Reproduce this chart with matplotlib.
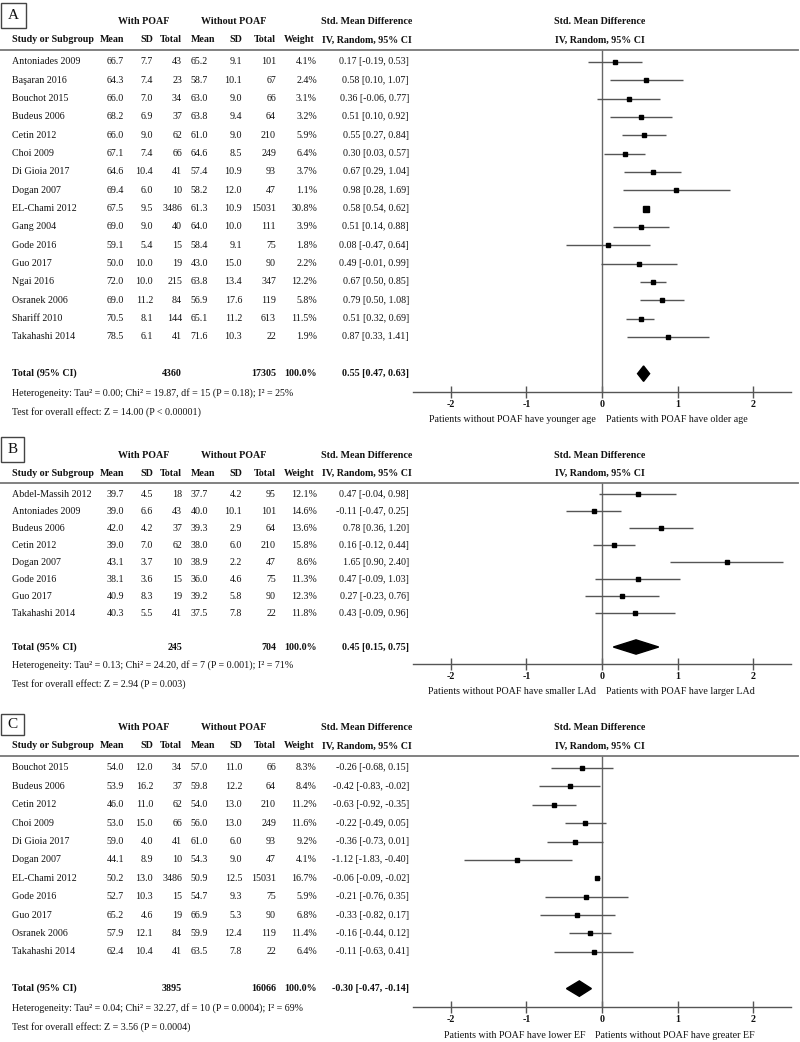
import numpy as np
import matplotlib.pyplot as plt
from matplotlib.transforms import blended_transform_factory
from matplotlib.patches import Polygon, Rectangle

plt.rcParams['font.family'] = ['Liberation Serif', 'DejaVu Serif']

# ---------------- data: panel A (age) ----------------
studies_a = ['Antoniades 2009', 'Başaran 2016', 'Bouchot 2015', 'Budeus 2006', 'Cetin 2012',
             'Choi 2009', 'Di Gioia 2017', 'Dogan 2007', 'EL-Chami 2012', 'Gang 2004',
             'Gode 2016', 'Guo 2017', 'Ngai 2016', 'Osranek 2006', 'Shariff 2010', 'Takahashi 2014']
mean1_a = [66.7, 64.3, 66.0, 68.2, 66.0, 67.1, 64.6, 69.4, 67.5, 69.0, 59.1, 50.0, 72.0, 69.0, 70.5, 78.5]
sd1_a = [7.7, 7.4, 7.0, 6.9, 9.0, 7.4, 10.4, 6.0, 9.5, 9.0, 5.4, 10.0, 10.0, 11.2, 8.1, 6.1]
n1_a = [43, 23, 34, 37, 62, 66, 41, 10, 3486, 40, 15, 19, 215, 84, 144, 41]
mean2_a = [65.2, 58.7, 63.0, 63.8, 61.0, 64.6, 57.4, 58.2, 61.3, 64.0, 58.4, 43.0, 63.8, 56.9, 65.1, 71.6]
sd2_a = [9.1, 10.1, 9.0, 9.4, 9.0, 8.5, 10.9, 12.0, 10.9, 10.0, 9.1, 15.0, 13.4, 17.6, 11.2, 10.3]
n2_a = [101, 67, 66, 64, 210, 249, 93, 47, 15031, 111, 75, 90, 347, 119, 613, 22]
weight_a = [4.1, 2.4, 3.1, 3.2, 5.9, 6.4, 3.7, 1.1, 30.8, 3.9, 1.8, 2.2, 12.2, 5.8, 11.5, 1.9]
smd_a = [0.17, 0.58, 0.36, 0.51, 0.55, 0.30, 0.67, 0.98, 0.58, 0.51, 0.08, 0.49, 0.67, 0.79, 0.51, 0.87]
lo_a = [-0.19, 0.10, -0.06, 0.10, 0.27, 0.03, 0.29, 0.28, 0.54, 0.14, -0.47, -0.01, 0.50, 0.50, 0.32, 0.33]
hi_a = [0.53, 1.07, 0.77, 0.92, 0.84, 0.57, 1.04, 1.69, 0.62, 0.88, 0.64, 0.99, 0.85, 1.08, 0.69, 1.41]
total_a = (4360, 17305, 0.55, 0.47, 0.63)
het_a = 'Heterogeneity: Tau² = 0.00; Chi² = 19.87, df = 15 (P = 0.18); I² = 25%'
test_a = 'Test for overall effect: Z = 14.00 (P < 0.00001)'
dir_a = ('Patients without POAF have younger age', 'Patients with POAF have older age')

# ---------------- data: panel B (LAd) ----------------
studies_b = ['Abdel-Massih 2012', 'Antoniades 2009', 'Budeus 2006', 'Cetin 2012', 'Dogan 2007',
             'Gode 2016', 'Guo 2017', 'Takahashi 2014']
mean1_b = [39.7, 39.0, 42.0, 39.0, 43.1, 38.1, 40.9, 40.3]
sd1_b = [4.5, 6.6, 4.2, 7.0, 3.7, 3.6, 8.3, 5.5]
n1_b = [18, 43, 37, 62, 10, 15, 19, 41]
mean2_b = [37.7, 40.0, 39.3, 38.0, 38.9, 36.0, 39.2, 37.5]
sd2_b = [4.2, 10.1, 2.9, 6.0, 2.2, 4.6, 5.8, 7.8]
n2_b = [95, 101, 64, 210, 47, 75, 90, 22]
weight_b = [12.1, 14.6, 13.6, 15.8, 8.6, 11.3, 12.3, 11.8]
smd_b = [0.47, -0.11, 0.78, 0.16, 1.65, 0.47, 0.27, 0.43]
lo_b = [-0.04, -0.47, 0.36, -0.12, 0.90, -0.09, -0.23, -0.09]
hi_b = [0.98, 0.25, 1.20, 0.44, 2.40, 1.03, 0.76, 0.96]
total_b = (245, 704, 0.45, 0.15, 0.75)
het_b = 'Heterogeneity: Tau² = 0.13; Chi² = 24.20, df = 7 (P = 0.001); I² = 71%'
test_b = 'Test for overall effect: Z = 2.94 (P = 0.003)'
dir_b = ('Patients without POAF have smaller LAd', 'Patients with POAF have larger LAd')

# ---------------- data: panel C (EF) ----------------
studies_c = ['Bouchot 2015', 'Budeus 2006', 'Cetin 2012', 'Choi 2009', 'Di Gioia 2017', 'Dogan 2007',
             'EL-Chami 2012', 'Gode 2016', 'Guo 2017', 'Osranek 2006', 'Takahashi 2014']
mean1_c = [54.0, 53.9, 46.0, 53.0, 59.0, 44.1, 50.2, 52.7, 65.2, 57.9, 62.4]
sd1_c = [12.0, 16.2, 11.0, 15.0, 4.0, 8.9, 13.0, 10.3, 4.6, 12.1, 10.4]
n1_c = [34, 37, 62, 66, 41, 10, 3486, 15, 19, 84, 41]
mean2_c = [57.0, 59.8, 54.0, 56.0, 61.0, 54.3, 50.9, 54.7, 66.9, 59.9, 63.5]
sd2_c = [11.0, 12.2, 13.0, 13.0, 6.0, 9.0, 12.5, 9.3, 5.3, 12.4, 7.8]
n2_c = [66, 64, 210, 249, 93, 47, 15031, 75, 90, 119, 22]
weight_c = [8.3, 8.4, 11.2, 11.6, 9.2, 4.1, 16.7, 5.9, 6.8, 11.4, 6.4]
smd_c = [-0.26, -0.42, -0.63, -0.22, -0.36, -1.12, -0.06, -0.21, -0.33, -0.16, -0.11]
lo_c = [-0.68, -0.83, -0.92, -0.49, -0.73, -1.83, -0.09, -0.76, -0.82, -0.44, -0.63]
hi_c = [0.15, -0.02, -0.35, 0.05, 0.01, -0.40, -0.02, 0.35, 0.17, 0.12, 0.41]
total_c = (3895, 16066, -0.30, -0.47, -0.14)
het_c = 'Heterogeneity: Tau² = 0.04; Chi² = 32.27, df = 10 (P = 0.0004); I² = 69%'
test_c = 'Test for overall effect: Z = 3.56 (P = 0.0004)'
dir_c = ('Patients with POAF have lower EF', 'Patients without POAF have greater EF')

ticks = [-2, -1, 0, 1, 2]

W, H = 800, 1042
fig = plt.figure(figsize=(W / 100, H / 100), dpi=100)
FS = 7.2
TXT = '#111111'
LINE = '#777777'


def fx(x):
    return x / W


def fy(y):
    return 1 - y / H


def panel(label, box, line_y, axis_y, split_x, studies, m1, s1, n1, m2, s2, n2, w, smd, lo, hi,
          total, het, test, dirs):
    n = len(studies)
    ax = fig.add_axes([fx(413), fy(axis_y), fx(791) - fx(413), (axis_y - line_y) / H])
    ax.set_xlim(-2.5, 2.5)
    ax.set_ylim(n + 2, -0.65)
    for s in ['top', 'left', 'right']:
        ax.spines[s].set_visible(False)
    ax.spines['bottom'].set_color('#555555')
    ax.spines['bottom'].set_linewidth(1.0)
    ax.set_yticks([])
    ax.set_xticks(ticks)
    ax.set_xticklabels([str(t) for t in ticks], fontsize=FS, fontweight='bold', color=TXT)
    ax.tick_params(axis='x', direction='inout', length=8, width=1, color='#555555', pad=1.5)
    ax.patch.set_alpha(0)
    ax.axvline(0, color='#666666', lw=1.0)

    rows = np.arange(n)
    ax.hlines(rows, lo, hi, color='#555555', lw=1.0)
    for i in range(n):
        ms = max(2.4, 0.85 * np.sqrt(w[i]))
        ax.plot(smd[i], i, 's', ms=ms, color='black', mec='black')
    t1, t2, est, tlo, thi = total
    yt = n + 1
    ax.add_patch(Polygon([(tlo, yt), (est, yt - 0.42), (thi, yt), (est, yt + 0.42)],
                         closed=True, color='black'))

    # table text, rows in data coords, x in figure fraction
    tr = blended_transform_factory(fig.transFigure, ax.transData)
    for i in range(n):
        kw = dict(transform=tr, fontsize=FS, color=TXT, va='center')
        ax.text(fx(12), i, studies[i], ha='left', **kw)
        ax.text(fx(124), i, f'{m1[i]:.1f}', ha='right', **kw)
        ax.text(fx(153), i, f'{s1[i]:.1f}', ha='right', **kw)
        ax.text(fx(182), i, f'{n1[i]}', ha='right', **kw)
        ax.text(fx(208), i, f'{m2[i]:.1f}', ha='right', **kw)
        ax.text(fx(242), i, f'{s2[i]:.1f}', ha='right', **kw)
        ax.text(fx(276), i, f'{n2[i]}', ha='right', **kw)
        ax.text(fx(317), i, f'{w[i]:.1f}%', ha='right', **kw)
        ax.text(fx(409), i, f'{smd[i]:.2f} [{lo[i]:.2f}, {hi[i]:.2f}]', ha='right', **kw)
    kw = dict(transform=tr, fontsize=FS, color=TXT, va='center', fontweight='bold')
    ax.text(fx(12), yt, 'Total (95% CI)', ha='left', **kw)
    ax.text(fx(182), yt, f'{t1}', ha='right', **kw)
    ax.text(fx(276), yt, f'{t2}', ha='right', **kw)
    ax.text(fx(317), yt, '100.0%', ha='right', **kw)
    ax.text(fx(409), yt, f'{est:.2f} [{tlo:.2f}, {thi:.2f}]', ha='right', **kw)

    # headers
    hb = dict(fontsize=FS, color=TXT, va='center', fontweight='bold')
    h1, h2 = line_y - 28, line_y - 10
    fig.text(fx(144), fy(h1), 'With POAF', ha='center', **hb)
    fig.text(fx(234), fy(h1), 'Without POAF', ha='center', **hb)
    fig.text(fx(367), fy(h1), 'Std. Mean Difference', ha='center', **hb)
    fig.text(fx(600), fy(h1), 'Std. Mean Difference', ha='center', **hb)
    fig.text(fx(12), fy(h2), 'Study or Subgroup', ha='left', **hb)
    fig.text(fx(124), fy(h2), 'Mean', ha='right', **hb)
    fig.text(fx(153), fy(h2), 'SD', ha='right', **hb)
    fig.text(fx(182), fy(h2), 'Total', ha='right', **hb)
    fig.text(fx(203), fy(h2), 'Mean', ha='center', **hb)
    fig.text(fx(242), fy(h2), 'SD', ha='right', **hb)
    fig.text(fx(276), fy(h2), 'Total', ha='right', **hb)
    fig.text(fx(315), fy(h2), 'Weight', ha='right', **hb)
    fig.text(fx(367), fy(h2), 'IV, Random, 95% CI', ha='center', **hb)
    fig.text(fx(600), fy(h2), 'IV, Random, 95% CI', ha='center', **hb)
    fig.add_artist(plt.Line2D([0, fx(798)], [fy(line_y), fy(line_y)], color=LINE, lw=1.3))

    # panel label box
    x0, y0, x1, y1 = box
    fig.add_artist(Rectangle((fx(x0), fy(y1)), fx(x1 - x0), (y1 - y0) / H, fill=False,
                             ec='#444444', lw=1.0))
    fig.text(fx((x0 + x1) / 2), fy((y0 + y1) / 2), label, ha='center', va='center',
             fontsize=11, color=TXT)

    # footnotes and direction labels
    nb = dict(fontsize=FS, color=TXT, va='center')
    fig.text(fx(12), fy(axis_y + 1), het, ha='left', **nb)
    fig.text(fx(12), fy(axis_y + 20), test, ha='left', **nb)
    fig.text(fx(split_x - 5), fy(axis_y + 28), dirs[0], ha='right', **nb)
    fig.text(fx(split_x + 5), fy(axis_y + 28), dirs[1], ha='left', **nb)


panel('A', (1, 3, 26, 28), 50, 392, 601, studies_a, mean1_a, sd1_a, n1_a, mean2_a, sd2_a, n2_a,
      weight_a, smd_a, lo_a, hi_a, total_a, het_a, test_a, dir_a)
panel('B', (1, 437, 24, 462), 483, 664, 601, studies_b, mean1_b, sd1_b, n1_b, mean2_b, sd2_b, n2_b,
      weight_b, smd_b, lo_b, hi_b, total_b, het_b, test_b, dir_b)
panel('C', (1, 714, 24, 735), 756, 1007, 590, studies_c, mean1_c, sd1_c, n1_c, mean2_c, sd2_c, n2_c,
      weight_c, smd_c, lo_c, hi_c, total_c, het_c, test_c, dir_c)

fig.savefig('out.png', dpi=100)
